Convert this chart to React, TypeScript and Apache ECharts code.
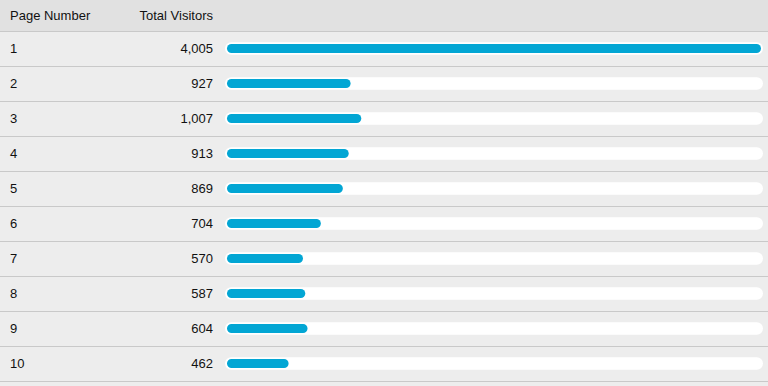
import React, { useEffect, useRef } from "react";
import * as echarts from "echarts";

const pages = ["1", "2", "3", "4", "5", "6", "7", "8", "9", "10"];
const visitors = [4005, 927, 1007, 913, 869, 704, 570, 587, 604, 462];
const headers = ["Page Number", "Total Visitors"];

const FONT = "'Liberation Sans', Arial, Helvetica, sans-serif";

export default function App() {
  const ref = useRef<HTMLDivElement>(null);
  useEffect(() => {
    if (!ref.current) return;
    const chart = echarts.init(ref.current, null, { renderer: "svg" });
    const maxV = Math.max(...visitors);
    const pad = (maxV * 2) / 534;
    const trackMin = -pad;
    const trackMax = maxV + pad;
    const fmt = (v: number) => v.toLocaleString("en-US");
    chart.setOption({
      animation: false,
      backgroundColor: "#ededed",
      grid: [
        { left: 225, right: 5, top: 31, bottom: 5, containLabel: false },
        { left: 0, right: 0, top: 31, bottom: 5, containLabel: false },
      ],
      xAxis: [
        { type: "value", min: trackMin, max: trackMax, show: false, gridIndex: 0 },
        { type: "value", min: 0, max: 1, show: false, gridIndex: 1 },
      ],
      yAxis: [
        {
          type: "category",
          gridIndex: 0,
          data: pages,
          inverse: true,
          axisLine: { show: false },
          axisTick: { show: false },
          axisLabel: {
            align: "left",
            margin: 215,
            color: "#111",
            fontSize: 13,
            fontFamily: FONT,
          },
          splitLine: { show: false },
        },
        {
          type: "category",
          gridIndex: 0,
          data: visitors.map(fmt),
          inverse: true,
          position: "left",
          axisLine: { show: false },
          axisTick: { show: false },
          axisLabel: {
            align: "right",
            margin: 12,
            color: "#111",
            fontSize: 13,
            fontFamily: FONT,
          },
          splitLine: { show: false },
        },
        {
          type: "category",
          gridIndex: 1,
          data: pages,
          inverse: true,
          axisLine: { show: false },
          axisTick: { show: false },
          axisLabel: { show: false },
          splitLine: { show: true, lineStyle: { color: "#c9c9c9", width: 1 } },
        },
      ],
      graphic: [
        {
          type: "rect",
          left: 0,
          top: 0,
          shape: { width: 768, height: 31 },
          style: { fill: "#e1e1e1" },
          z: -1,
        },
        {
          type: "text",
          x: 10,
          y: 15,
          style: {
            text: headers[0],
            fill: "#111",
            font: `13px ${FONT}`,
            textAlign: "left",
            textVerticalAlign: "middle",
          },
        },
        {
          type: "text",
          x: 213,
          y: 15,
          style: {
            text: headers[1],
            fill: "#111",
            font: `13px ${FONT}`,
            textAlign: "right",
            textVerticalAlign: "middle",
          },
        },
      ],
      series: [
        {
          type: "custom",
          silent: true,
          xAxisIndex: 0,
          yAxisIndex: 0,
          data: visitors.map((_, i) => i),
          renderItem: (params: any, api: any) => {
            const idx = api.value(0);
            const p0 = api.coord([trackMin, idx]);
            const p1 = api.coord([trackMax, idx]);
            return {
              type: "rect",
              shape: { x: p0[0], y: p0[1] - 6.25, width: p1[0] - p0[0], height: 12.5, r: 6.25 },
              style: { fill: "#ffffff" },
            };
          },
          encode: { y: 0 },
          z: 1,
        },
        {
          type: "bar",
          xAxisIndex: 0,
          yAxisIndex: 0,
          data: visitors,
          barWidth: 9,
          itemStyle: { color: "#02a6d4", borderRadius: 4.5 },
          z: 2,
        },
      ],
    });
    return () => chart.dispose();
  }, []);
  return (
    <div
      ref={ref}
      style={{ position: "fixed", left: 0, top: 0, width: 768, height: 386 }}
    />
  );
}
